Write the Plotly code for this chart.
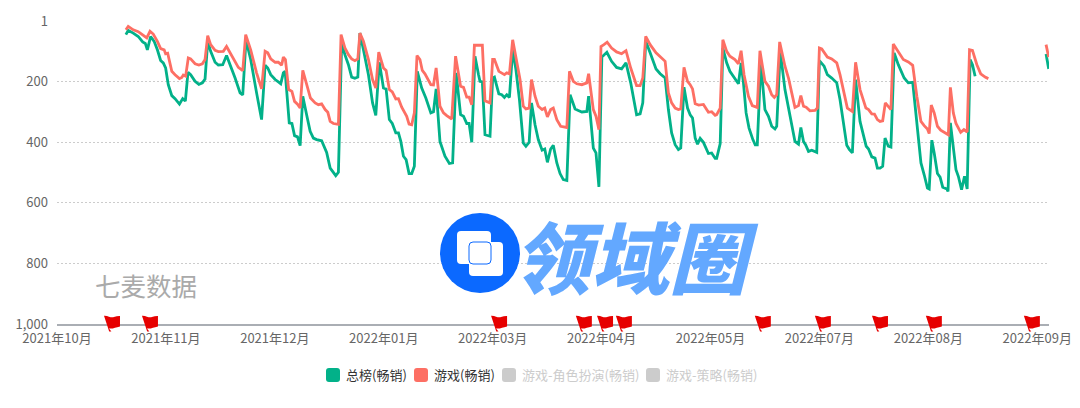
import plotly.graph_objects as go

CJK = "Noto Sans CJK SC"

tick_days = [0, 37, 74, 111, 148, 185, 222, 259, 296, 333]
tick_labels = ["2021年10月", "2021年11月", "2021年12月", "2022年01月", "2022年03月",
               "2022年04月", "2022年05月", "2022年07月", "2022年08月", "2022年09月"]
rank_ticks = [1, 200, 400, 600, 800, 1000]
rank_labels = ["1", "200", "400", "600", "800", "1,000"]

green_days = [23.4,24.2,25.9,27.6,29.1,30.0,30.7,31.8,33.0,34.1,35.2,36.1,36.9,37.8,39.0,40.1,41.6,42.7,43.6,44.5,
              45.4,46.9,48.2,49.4,50.3,51.2,52.2,53.7,54.8,56.3,57.6,58.8,60.5,62.2,63.1,64.2,65.8,67.8,69.5,70.7,
              71.6,72.6,74.1,75.2,76.0,76.9,77.5,78.9,79.8,80.7,81.7,82.6,83.5,84.8,86.0,87.1,88.2,89.9,91.6,92.8,
              93.7,94.7,95.6,96.7,97.8,99.0,100.1,101.2,102.2,102.9,
              104.1,105.8,107.2,108.3,109.5,110.9,111.8,112.9,113.9,115.1,116.0,116.8,117.7,118.6,119.6,120.5,121.4,
              122.4,123.9,125.3,127.0,127.9,128.8,130.1,131.8,133.3,134.4,135.6,137.1,138.1,139.2,140.0,140.9,142.0,
              143.2,143.7,144.5,145.4,147.1,148.0,148.6,150.1,151.1,152.0,152.8,153.7,154.8,155.9,157.1,158.4,159.3,
              160.4,161.2,162.4,163.5,164.8,165.7,166.6,167.7,168.6,169.8,170.9,172.0,173.2,174.3,176.0,177.1,178.3,
              180.0,180.6,182.2,183.1,184.1,185.1,186.8,188.4,190.1,191.8,193.3,194.9,196.9,198.1,199.0,200.0,201.5,
              203.5,204.9,206.6,207.7,208.8,210.0,211.1,211.9,213.0,214.2,215.1,215.9,216.8,217.6,218.5,219.6,221.3,
              222.4,223.6,224.1,225.3,
              226.2,227.5,228.6,230.3,231.5,232.4,233.2,234.1,235.1,236.4,237.2,237.9,239.1,240.5,241.7,242.8,243.9,
              244.5,245.7,247.3,248.2,249.3,250.7,251.9,252.7,253.6,254.3,255.3,256.4,258.1,259.0,260.6,261.7,263.2,
              264.9,266.0,266.9,268.3,269.2,270.2,271.3,272.8,274.9,275.7,276.8,277.9,278.7,279.6,280.5,281.3,282.4,
              283.3,284.4,285.8,287.8,289.2,290.7,292.1,293.5,294.6,295.7,296.3,297.2,298.0,299.1,300.0,300.9,302.3,
              302.7,303.5,304.5,305.4,306.2,307.3,308.3,309.2,310.2,311.0,311.9,
              None,336.0,336.9]
green_ranks = [46,32,41,52,70,75,96,52,68,96,131,139,156,211,247,257,275,257,265,170,
               178,200,210,205,192,68,101,137,146,145,115,145,189,238,245,63,128,238,326,147,
               156,178,194,202,208,172,167,337,339,379,383,412,249,310,365,387,392,396,434,486,
               497,511,500,74,112,145,186,190,186,41,
               96,178,271,312,137,222,225,326,339,370,370,398,447,458,504,504,480,
               167,222,255,304,300,225,398,447,471,469,172,310,315,339,339,401,117,
               178,200,202,376,381,189,186,241,244,253,244,253,96,161,260,403,414,
               401,271,343,392,427,423,467,423,411,469,504,524,527,244,291,296,301,
               299,249,420,436,548,120,104,134,154,159,139,205,310,307,271,68,106,
               159,175,189,293,370,409,425,420,219,288,310,321,387,407,388,401,438,
               436,454,454,405,
               90,139,167,189,208,139,205,304,354,392,409,409,139,293,315,348,357,
               348,101,227,271,332,398,407,352,398,409,431,427,434,132,150,178,189,
               205,260,321,411,425,436,194,332,414,423,449,453,486,486,480,387,414,
               417,106,145,189,205,203,348,469,508,552,555,394,436,504,516,549,555,
               563,337,425,491,513,557,513,555,128,145,183,
               None,110,159]

red_days = [23.4,24.2,25.9,27.6,29.1,30.5,31.6,32.7,34.1,35.2,36.4,36.9,37.6,39.0,40.1,41.6,42.4,42.9,43.7,44.6,
            45.4,46.9,48.2,49.4,50.3,51.2,52.2,53.7,54.8,56.5,57.6,58.8,60.3,61.6,63.1,64.1,65.8,67.8,69.5,70.7,
            71.6,72.6,74.1,75.2,76.3,76.9,77.6,78.7,79.8,80.7,81.7,82.6,83.5,84.8,86.1,87.7,88.8,89.9,91.1,92.0,
            92.8,93.9,95.6,96.5,97.8,99.0,100.1,101.2,102.2,102.9,
            104.1,105.8,107.2,108.3,109.3,110.9,111.8,112.9,113.9,115.1,116.0,117.1,118.8,119.6,120.5,121.4,122.3,
            123.3,124.1,125.0,127.0,127.9,128.8,130.1,131.3,132.4,134.1,135.4,137.1,138.1,139.2,140.0,140.9,141.8,
            144.5,145.4,147.1,148.0,148.6,150.1,151.1,152.0,152.8,153.7,154.8,155.9,157.3,158.4,159.3,160.4,161.2,
            162.4,163.5,164.8,165.7,166.6,167.7,168.6,169.8,171.1,173.2,174.1,175.4,176.6,178.3,180.0,180.6,182.2,
            183.1,184.1,184.8,185.8,186.9,188.4,190.1,191.8,193.3,194.9,196.9,198.1,199.0,200.0,201.5,203.5,204.9,
            206.6,207.7,208.8,210.0,211.1,211.9,213.0,214.2,215.1,215.9,216.8,218.0,219.6,221.3,222.4,223.6,224.1,225.3,
            226.2,227.5,228.6,230.3,231.5,232.4,233.4,234.9,236.2,237.9,238.8,240.5,241.7,242.8,243.7,244.5,245.5,
            247.3,248.5,249.6,250.7,251.9,252.7,253.6,254.5,255.8,257.5,258.3,259.0,259.8,261.7,263.2,264.9,266.0,
            267.2,268.5,270.2,271.3,272.8,274.8,275.7,276.8,277.7,278.7,279.6,280.5,281.4,282.4,283.3,284.1,285.8,
            287.5,289.2,290.7,292.1,293.5,294.6,295.7,296.3,297.0,298.0,299.1,300.2,301.4,302.8,303.5,304.5,305.4,
            307.0,308.1,309.2,310.0,311.0,312.5,313.8,315.3,316.4,
            None,336.0,336.9]
red_ranks = [30,19,30,36,47,57,35,44,68,92,96,109,107,167,178,191,187,179,183,123,
             126,142,146,142,128,49,79,98,102,101,85,106,128,154,165,46,96,172,225,101,
             106,126,137,137,147,120,128,227,233,266,275,288,164,211,255,271,277,274,293,302,
             332,339,342,46,90,112,126,132,126,41,
             68,128,194,222,104,156,164,227,235,258,257,285,315,341,343,304,115,
             128,164,175,211,212,156,282,304,313,324,117,216,220,252,252,277,81,
             81,264,271,128,128,167,172,178,172,175,63,117,194,282,291,288,194,
             249,282,293,288,317,293,288,326,348,352,167,200,208,211,205,175,293,
             315,359,85,79,71,90,103,109,99,156,214,214,189,52,79,106,120,
             134,238,271,288,293,291,154,200,211,225,274,278,276,302,300,312,310,288,
             63,101,117,128,142,99,178,249,280,286,99,200,216,244,253,244,70,
             150,189,238,286,280,247,282,285,297,296,288,90,93,120,126,139,178,
             233,288,299,137,227,288,293,307,308,326,332,330,271,282,293,77,101,
             128,136,147,249,332,346,357,372,278,304,348,361,367,376,220,304,339,
             368,359,367,96,98,145,175,186,191,
             None,79,120]

flag_days = [18.0, 30.9, 149.5, 178.3, 185.5, 191.9, 239.1, 259.5, 278.9, 297.2, 330.5]

legend_names = ["总榜(畅销)", "游戏(畅销)", "游戏-角色扮演(畅销)", "游戏-策略(畅销)"]
legend_colors = ["#02b189", "#fd6f64", "#cccccc", "#cccccc"]
legend_text_colors = ["#333333", "#333333", "#cccccc", "#cccccc"]
legend_left = [326, 414, 502, 646]

WIDTH, HEIGHT = 1080, 408
PL, PR, PT, PB = 57, 1049, 21, 324


def fx(px):
    return (px - PL) / (PR - PL)


def fy(py):
    return (PB - py) / (PB - PT)


def pinned(cx, cy, path, **kw):
    return dict(type="path", xref="paper", yref="paper", xsizemode="pixel", ysizemode="pixel",
                xanchor=fx(cx), yanchor=fy(cy), path=path, layer="above", line_width=0, **kw)


def rrect(x0, y0, x1, y1, r):
    return (f"M{x0+r},{y0} L{x1-r},{y0} Q{x1},{y0} {x1},{y0+r} L{x1},{y1-r} Q{x1},{y1} {x1-r},{y1} "
            f"L{x0+r},{y1} Q{x0},{y1} {x0},{y1-r} L{x0},{y0+r} Q{x0},{y0} {x0+r},{y0} Z")


fig = go.Figure()
fig.add_trace(go.Scatter(x=green_days, y=green_ranks, name=legend_names[0], mode="lines",
                         line=dict(color=legend_colors[0], width=2.8), showlegend=False))
fig.add_trace(go.Scatter(x=red_days, y=red_ranks, name=legend_names[1], mode="lines",
                         line=dict(color=legend_colors[1], width=2.8), showlegend=False))

shapes = []
FLAG = ("M-6,15.7 Q-3,15.8 -1,14.8 Q2,13.8 4,14.6 Q7,15.6 10,15.5 L10,5 Q7,4.2 5,3.8 "
        "Q2,2.6 -1,3 L1.4,0 L-0.8,0 Z")
for d in flag_days:
    shapes.append(dict(type="path", xref="x", yref="paper", xsizemode="pixel", ysizemode="pixel",
                       xanchor=d, yanchor=fy(331.5), path=FLAG, fillcolor="#e60000",
                       line_width=0, layer="above"))

shapes.append(dict(type="circle", xref="paper", yref="paper", x0=fx(440), x1=fx(520), y0=fy(293), y1=fy(213),
                   fillcolor="#0b69ff", line_width=0, layer="above"))
shapes.append(pinned(457, 264, rrect(0, 0, 34, 33, 4), fillcolor="#ffffff"))
shapes.append(pinned(469, 276, rrect(0, 0, 34, 34, 4), fillcolor="#ffffff"))
shapes.append(dict(type="path", xref="paper", yref="paper", xsizemode="pixel", ysizemode="pixel",
                   xanchor=fx(469), yanchor=fy(264), path=rrect(0, 0, 22, 22, 4), fillcolor="rgba(0,0,0,0)",
                   line=dict(color="#0b69ff", width=1), layer="above"))

annotations = [
    dict(text="领域圈", xref="paper", yref="paper", x=fx(636), y=fy(254), xanchor="center",
         yanchor="middle", showarrow=False,
         font=dict(family=CJK, size=78, color="#63a8ff", weight=900, style="italic")),
    dict(text="七麦数据", xref="paper", yref="paper", x=fx(146), y=fy(284), xanchor="center",
         yanchor="middle", showarrow=False, font=dict(family=CJK, size=25.5, color="#aaaaaa")),
]
for name, col, tcol, left in zip(legend_names, legend_colors, legend_text_colors, legend_left):
    shapes.append(pinned(left, 382, rrect(0, 0, 14, 14, 3), fillcolor=col))
    annotations.append(dict(text=name, xref="paper", yref="paper", x=fx(left + 17.5), y=fy(374.5), xanchor="left",
                            yanchor="middle", showarrow=False,
                            font=dict(family=CJK, size=13, color=tcol)))

fig.update_layout(
    width=WIDTH, height=HEIGHT, autosize=False,
    margin=dict(l=PL, r=WIDTH - PR, t=PT, b=HEIGHT - PB, pad=0),
    paper_bgcolor="#ffffff", plot_bgcolor="#ffffff", showlegend=False,
    font=dict(family=CJK, size=13, color="#666666"),
    shapes=shapes, annotations=annotations,
    xaxis=dict(automargin=False, range=[0, 337], tickmode="array", tickvals=tick_days, ticktext=tick_labels,
               showgrid=False, zeroline=False, showline=True, linecolor="#aaaeb4", linewidth=2, ticks="",
               tickfont=dict(family=CJK, size=13, color="#666666"), ticklabelstandoff=1),
    yaxis=dict(automargin=False, range=[1000, 1], tickmode="array", tickvals=rank_ticks, ticktext=rank_labels,
               showgrid=True, gridcolor="#cccccc", griddash="2px,2px", gridwidth=1, zeroline=False, showline=False,
               ticks="", tickfont=dict(family=CJK, size=13, color="#666666"), ticklabelstandoff=8),
)

fig.write_html("out.html", config=dict(displayModeBar=False),
               post_script="document.body.style.margin='0';document.body.style.overflow='hidden';")
